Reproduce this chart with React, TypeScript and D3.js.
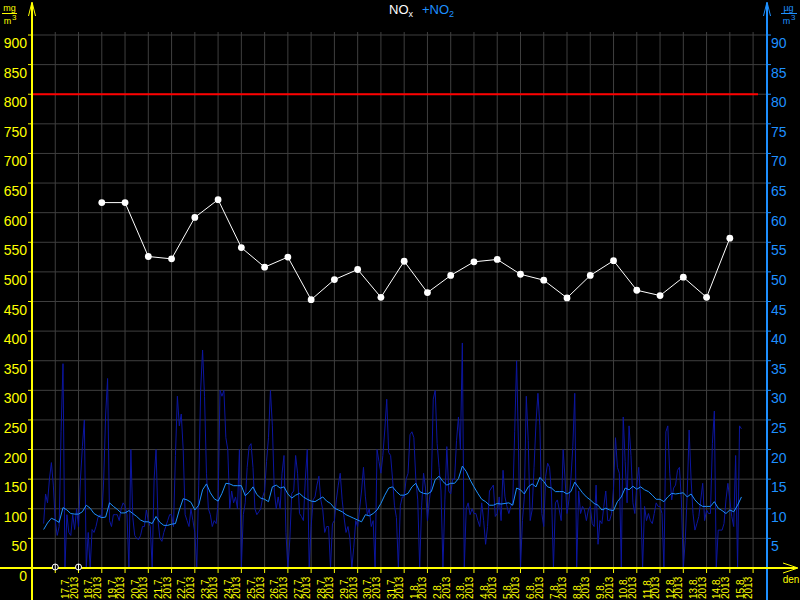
import { scaleLinear, scaleTime, line, range } from "d3";

// hourly NOx, sampled every 2 hours, starting 15.7.2013 12:00 (left axis, mg/m3 scale)
const noxJulyA = [
  75, 125, 110, 150, 178, 140,
  80, 55, 70, 230, 345, 0, 90, 60, 55, 90, 65, 100,
  70, 150, 205, 250, 0, 60, 0, 65, 60, 70, 85, 90,
  85, 150, 260, 320, 80, 70, 90, 90, 90, 80, 100, 110,
  105, 90, 0, 200, 85, 55, 50, 48, 55, 70, 70, 98,
  80, 70, 0, 150, 200, 80, 50, 45, 60, 70, 80, 90,
  90, 70, 190, 290, 240, 260, 200, 90, 80, 70, 100, 80,
  60, 0, 140, 300, 368, 290, 160, 100, 90, 70, 80, 75,
];
const noxJulyB = [
  110, 300, 290, 300, 220, 200, 100, 130, 110, 120, 100, 200,
  0, 90, 110, 170, 205, 210, 170, 100, 90, 95, 100, 120,
  130, 180, 220, 300, 240, 130, 100, 120, 100, 160, 190, 60,
  0, 48, 126, 130, 190, 160, 92, 87, 80, 150, 200, 0,
  70, 115, 120, 140, 155, 115, 98, 60, 70, 70, 0, 75,
  80, 115, 140, 160, 115, 85, 60, 70, 50, 0, 35, 80,
  70, 100, 130, 170, 120, 90, 100, 70, 80, 0, 200, 180,
  160, 190, 233, 285, 195, 190, 150, 105, 85, 0, 105, 120,
  120, 150, 160, 225, 230, 220, 150, 115, 0, 105, 160, 135,
];
const noxAugust = [
  80, 115, 140, 285, 300, 210, 170, 130, 0, 115, 205, 130,
  125, 150, 150, 215, 255, 200, 380, 0, 100, 110, 90, 100,
  92, 92, 80, 70, 110, 80, 40, 70, 130, 135, 140, 87,
  92, 120, 80, 165, 120, 104, 92, 104, 110, 230, 350, 200,
  0, 80, 120, 290, 215, 80, 98, 170, 245, 295, 240, 92,
  70, 155, 177, 170, 125, 0, 110, 115, 98, 80, 200, 150,
  92, 115, 150, 205, 295, 0, 130, 92, 104, 98, 80, 98,
  104, 75, 70, 140, 40, 80, 75, 104, 130, 80, 80, 92,
  135, 220, 170, 160, 0, 255, 180, 110, 240, 190, 110, 92,
  140, 170, 115, 0, 104, 80, 92, 80, 75, 92, 110, 104,
  104, 92, 0, 230, 240, 160, 115, 135, 140, 165, 170, 115,
  0, 47, 125, 233, 150, 92, 64, 75, 87, 115, 143, 80,
  98, 92, 92, 210, 265, 0, 64, 64, 64, 75, 115, 143,
  115, 87, 70, 190, 0, 240, 235,
];

// NO2, every 4 hours from 15.7.2013 12:00 (right axis, ug/m3)
const no2July = [
  6.5, 7.6, 8.4,
  8.1, 7.7, 10.2, 9.8, 9.2, 9.1,
  9.1, 9.5, 10.6, 10.1, 9.2, 8.8,
  8.5, 8.6, 11.0, 10.4, 9.9, 9.3,
  9.3, 9.7, 9.2, 8.7, 8.1, 7.8,
  7.8, 7.5, 8.7, 7.7, 7.2, 7.2,
  7.4, 7.5, 9.8, 11.7, 11.5, 11.1,
  9.8, 10.6, 13.2, 14.2, 12.7, 11.7,
  11.3, 12.6, 14.3, 14.2, 13.9, 13.9,
  13.9, 12.2, 12.8, 13.7, 12.4, 11.8,
  11.6, 11.2, 13.7, 14.0, 13.5, 13.7,
  12.5, 11.8, 12.3, 12.6, 12.0, 11.6,
  11.3, 11.2, 11.6, 12.0, 11.3, 10.9,
  10.1, 9.8, 9.5, 9.0, 8.7, 8.4,
  8.1, 7.8, 9.0, 8.8, 9.2, 9.8,
  10.9, 12.3, 13.5, 13.7, 12.9, 12.3,
  12.3, 12.6, 13.7, 14.3, 12.9, 12.6,
];
const no2August = [
  12.5, 12.9, 14.9, 15.5, 14.6, 14.0,
  14.3, 14.3, 15.1, 17.2, 16.3, 14.9,
  13.7, 12.6, 11.6, 11.2, 10.6, 10.6,
  10.9, 10.8, 10.9, 11.0, 10.6, 13.5,
  13.2, 12.5, 13.7, 14.2, 13.7, 15.3,
  14.6, 13.7, 13.5, 12.9, 12.9, 12.9,
  12.5, 12.9, 14.5, 13.6, 12.7, 12.0,
  11.5, 10.9, 10.6, 9.8, 10.1, 9.8,
  9.7, 11.2, 12.0, 13.5, 13.2, 13.8,
  13.3, 13.7, 13.2, 12.9, 12.3, 11.6,
  11.6, 11.2, 12.0, 12.6, 12.5, 12.6,
  12.7, 12.0, 12.5, 11.5, 10.8, 10.4,
  10.4, 10.4, 11.2, 10.1, 9.7, 9.2,
  9.8, 9.5, 10.6, 12.0,
];

// daily NOx averages, plotted at midnight from 18.7.2013
const dailyNox = [
  617, 617, 526, 522, 592, 622, 541, 508, 525, 453, 487, 504, 457, 518,
  465, 494, 517, 521, 496, 486, 456, 494, 519, 469, 460, 491, 457, 557,
];

const limitValue = 800;
const leftTicks = range(0, 901, 50);
const rightTicks = range(5, 91, 5);
const missingDays = [16, 17]; // July days flagged on the axis

const yellow = "#ffff00";
const blueAxis = "#1e90ff";
const font = "'Liberation Sans', Arial, sans-serif";

const day = (m: number, d: number, h = 0) => new Date(2013, m, d, h);
const seriesStart = day(6, 15, 12);

export default function App() {
  const x = scaleTime().domain([day(6, 15), day(7, 15)]).range([32, 753.1]);
  const yL = scaleLinear().domain([0, 900]).range([568, 35]);
  const yR = scaleLinear().domain([0, 90]).range([568, 35]);

  const at = (i: number, hours: number) =>
    new Date(seriesStart.getTime() + i * hours * 3600e3);

  const nox = [...noxJulyA, ...noxJulyB, ...noxAugust];
  const no2 = [...no2July, ...no2August];

  const noxLine = line<number>()
    .x((_, i) => x(at(i, 2)))
    .y((v) => yL(v));
  const no2Line = line<number>()
    .x((_, i) => x(at(i, 4)))
    .y((v) => yR(v));
  const dailyLine = line<number>()
    .x((_, i) => x(day(6, 18 + i)))
    .y((v) => yL(v));

  const dayTicks = range(1, 32).map((k) => day(6, 15 + k));
  const labelDays = range(2, 32).map((k) => day(6, 15 + k));

  return (
    <svg
      width={800}
      height={600}
      style={{ position: "absolute", left: 0, top: 0, background: "#000" }}
      fontFamily={font}
    >
      <rect width={800} height={600} fill="#000" />

      {/* grid */}
      {leftTicks.slice(1).map((t) => (
        <line key={"h" + t} x1={32} x2={766} y1={yL(t)} y2={yL(t)} stroke="#3f3f3f" />
      ))}
      {dayTicks.map((d, i) => (
        <line key={"v" + i} x1={x(d)} x2={x(d)} y1={32} y2={568} stroke="#3f3f3f" />
      ))}

      {/* limit */}
      <line x1={32} x2={758} y1={yL(limitValue)} y2={yL(limitValue)} stroke="#ff0000" strokeWidth={2} />

      {/* series */}
      <path d={noxLine(nox) ?? ""} fill="none" stroke="#0c16a0" strokeWidth={1} />
      <path d={no2Line(no2) ?? ""} fill="none" stroke="#1e90ff" strokeWidth={1} />
      <path d={dailyLine(dailyNox) ?? ""} fill="none" stroke="#fff" strokeWidth={1} />
      {dailyNox.map((v, i) => (
        <circle key={"p" + i} cx={x(day(6, 18 + i))} cy={yL(v)} r={3.4} fill="#fff" />
      ))}

      {/* left axis */}
      <line x1={32} x2={32} y1={3} y2={600} stroke={yellow} strokeWidth={2} />
      <path d="M28.5,16 L32,2 L35.5,16" fill="none" stroke={yellow} strokeWidth={1} />
      {leftTicks.map((t) => (
        <g key={"l" + t}>
          <line x1={28} x2={32} y1={yL(t)} y2={yL(t)} stroke={yellow} />
          <text x={27} y={yL(t) + 13} fill={yellow} fontSize={14} textAnchor="end">
            {t}
          </text>
        </g>
      ))}
      <text x={9.5} y={11} fill={yellow} fontSize={9} textAnchor="middle">mg</text>
      <line x1={2} x2={17} y1={13.5} y2={13.5} stroke={yellow} />
      <text x={7.5} y={23.5} fill={yellow} fontSize={9} textAnchor="middle">m</text>
      <text x={12} y={19.5} fill={yellow} fontSize={8}>3</text>

      {/* right axis */}
      <line x1={767} x2={767} y1={3} y2={600} stroke={blueAxis} strokeWidth={2} />
      <path d="M763.5,16 L767,2 L770.5,16" fill="none" stroke={blueAxis} strokeWidth={1} />
      {rightTicks.map((t) => (
        <g key={"r" + t}>
          <line x1={767} x2={771} y1={yR(t)} y2={yR(t)} stroke={blueAxis} />
          <text x={771} y={yR(t) + 13} fill={blueAxis} fontSize={14}>
            {t}
          </text>
        </g>
      ))}
      <text x={788.5} y={11} fill={blueAxis} fontSize={9} textAnchor="middle">µg</text>
      <line x1={781} x2={797} y1={13.5} y2={13.5} stroke={blueAxis} />
      <text x={786.5} y={23.5} fill={blueAxis} fontSize={9} textAnchor="middle">m</text>
      <text x={791} y={19.5} fill={blueAxis} fontSize={8}>3</text>

      {/* x axis */}
      <line x1={0} x2={797} y1={568} y2={568} stroke={yellow} strokeWidth={2} />
      <path d="M783,563 L798,568 L783,573" fill="none" stroke={yellow} strokeWidth={1} />
      <text x={791} y={583} fill={yellow} fontSize={10} textAnchor="middle">den</text>
      {dayTicks.map((d, i) => (
        <line key={"t" + i} x1={x(d)} x2={x(d)} y1={568} y2={573} stroke={yellow} />
      ))}
      {labelDays.map((d, i) => (
        <g key={"d" + i} transform={`translate(${x(d)},599) rotate(-90)`}>
          <text x={0} y={-9.5} fill={yellow} fontSize={10}>
            {`${d.getDate()}.${d.getMonth() + 1}.`}
          </text>
          <text x={0} y={-1} fill={yellow} fontSize={10}>
            2013
          </text>
        </g>
      ))}
      {missingDays.map((dd) => (
        <g key={"m" + dd}>
          <circle cx={x(day(6, dd))} cy={567} r={3} fill="#000" stroke="#fff" />
          <line x1={x(day(6, dd))} x2={x(day(6, dd))} y1={564} y2={570} stroke="#fff" />
        </g>
      ))}

      {/* title */}
      <text x={389} y={14} fontSize={13}>
        <tspan fill="#fff">NO</tspan>
        <tspan fill="#fff" fontSize={9} dy={3}>x</tspan>
        <tspan fill={blueAxis} dx={9} dy={-3}>+NO</tspan>
        <tspan fill={blueAxis} fontSize={9} dy={3}>2</tspan>
      </text>
    </svg>
  );
}
